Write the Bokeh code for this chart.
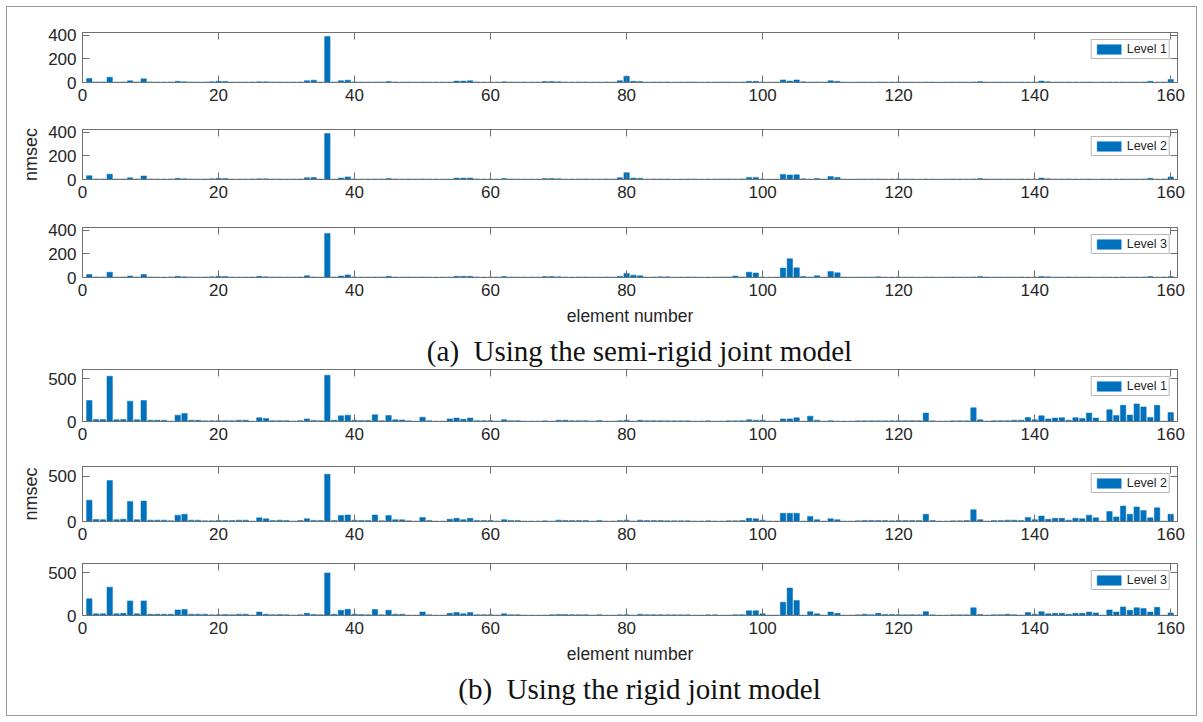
from bokeh.plotting import figure
from bokeh.models import Range1d, LinearAxis, FixedTicker, Legend, LegendItem, Div, ColumnDataSource
from bokeh.layouts import column
from bokeh.embed import file_html
from bokeh.resources import INLINE

elements = list(range(1, 161))
x_ticks = [0, 20, 40, 60, 80, 100, 120, 140, 160]
y_ticks_a = [0, 200, 400]
y_ticks_b = [0, 500]

semi_L1 = [34, 5, 5, 45, 4, 5, 14, 5, 31, 5, 4, 4, 5, 10, 6, 5, 4, 5, 6, 10,
           9, 4, 4, 4, 5, 6, 6, 5, 5, 4, 4, 5, 15, 20, 4, 390, 4, 15, 20, 5,
           4, 4, 5, 5, 8, 5, 4, 5, 4, 5, 4, 4, 4, 4, 12, 12, 15, 5, 4, 4,
           4, 6, 5, 4, 4, 4, 4, 8, 8, 6, 4, 4, 5, 5, 4, 4, 5, 4, 15, 53,
           10, 8, 4, 5, 5, 5, 3, 4, 5, 5, 3, 4, 4, 5, 5, 4, 5, 10, 10, 4,
           3, 4, 22, 12, 22, 6, 4, 5, 4, 15, 10, 4, 3, 4, 4, 4, 5, 4, 4, 5,
           4, 4, 3, 4, 4, 3, 4, 5, 4, 4, 5, 8, 5, 4, 4, 4, 4, 5, 4, 4,
           12, 6, 4, 4, 5, 4, 4, 5, 3, 4, 4, 4, 5, 4, 4, 5, 10, 4, 5, 25]

semi_L2 = [32, 5, 5, 45, 4, 5, 14, 5, 30, 5, 4, 4, 5, 10, 6, 5, 4, 5, 6, 10,
           9, 4, 4, 4, 5, 6, 6, 5, 5, 4, 4, 5, 15, 18, 4, 390, 4, 12, 22, 5,
           4, 4, 5, 5, 8, 5, 4, 5, 4, 5, 4, 4, 4, 4, 12, 12, 12, 5, 4, 4,
           4, 8, 5, 4, 4, 4, 4, 8, 8, 6, 4, 4, 5, 5, 4, 4, 5, 4, 15, 58,
           12, 10, 4, 5, 5, 5, 3, 4, 5, 5, 3, 4, 4, 5, 5, 4, 5, 18, 18, 4,
           3, 4, 42, 38, 40, 6, 4, 8, 4, 25, 18, 4, 3, 4, 4, 4, 5, 4, 4, 5,
           4, 4, 3, 4, 4, 3, 4, 5, 4, 4, 5, 8, 5, 4, 4, 4, 4, 5, 4, 4,
           12, 6, 4, 4, 5, 4, 4, 5, 3, 4, 4, 4, 5, 4, 4, 5, 10, 4, 5, 22]

semi_L3 = [25, 5, 5, 45, 4, 5, 12, 5, 25, 5, 4, 4, 5, 10, 6, 5, 4, 5, 6, 10,
           9, 4, 4, 4, 5, 10, 6, 5, 5, 4, 4, 5, 15, 5, 4, 375, 4, 12, 22, 5,
           4, 4, 5, 5, 10, 5, 4, 5, 4, 5, 4, 4, 4, 4, 10, 10, 10, 5, 4, 4,
           4, 8, 5, 4, 4, 4, 4, 8, 8, 6, 4, 4, 5, 5, 4, 4, 5, 4, 10, 35,
           20, 14, 4, 5, 6, 6, 3, 4, 5, 5, 3, 4, 4, 5, 5, 12, 5, 45, 38, 4,
           3, 4, 80, 160, 82, 8, 4, 15, 4, 50, 40, 4, 3, 4, 4, 4, 6, 4, 4, 5,
           4, 4, 3, 4, 4, 3, 4, 5, 4, 4, 5, 8, 5, 4, 4, 4, 4, 5, 4, 4,
           8, 6, 4, 4, 5, 4, 4, 5, 3, 4, 4, 4, 5, 4, 4, 5, 8, 4, 5, 8]

rigid_L1 = [244, 22, 22, 527, 20, 22, 236, 20, 244, 15, 15, 15, 5, 74, 93, 15, 14, 8, 8, 10,
            10, 10, 15, 15, 5, 43, 35, 10, 10, 10, 5, 10, 30, 12, 10, 539, 15, 66, 74, 15,
            12, 12, 78, 10, 70, 20, 18, 8, 5, 50, 10, 5, 5, 30, 40, 25, 40, 10, 10, 10,
            5, 20, 10, 10, 5, 5, 5, 8, 5, 15, 15, 10, 10, 10, 5, 12, 5, 5, 10, 15,
            5, 15, 10, 10, 10, 8, 8, 8, 8, 5, 5, 8, 5, 5, 8, 8, 10, 20, 15, 15,
            5, 5, 30, 30, 43, 5, 62, 15, 5, 10, 5, 5, 5, 8, 8, 8, 8, 8, 8, 10,
            10, 10, 10, 98, 8, 5, 5, 8, 8, 8, 160, 20, 5, 10, 10, 10, 15, 15, 47, 20,
            66, 30, 40, 45, 15, 45, 35, 98, 40, 5, 137, 70, 188, 75, 205, 170, 47, 188, 5, 105]

rigid_L2 = [235, 22, 20, 450, 20, 25, 220, 20, 225, 15, 15, 15, 8, 70, 80, 15, 15, 8, 8, 10,
            10, 10, 15, 15, 5, 40, 30, 10, 15, 12, 5, 10, 30, 12, 10, 520, 12, 65, 72, 15,
            12, 12, 72, 8, 65, 20, 18, 8, 5, 45, 10, 5, 5, 25, 35, 20, 35, 10, 10, 10,
            5, 20, 12, 10, 5, 5, 5, 8, 5, 15, 12, 10, 10, 10, 5, 12, 5, 5, 10, 15,
            5, 15, 10, 10, 10, 8, 8, 8, 8, 5, 5, 8, 5, 5, 8, 8, 10, 35, 30, 15,
            5, 5, 90, 90, 90, 5, 55, 20, 5, 30, 20, 5, 5, 8, 12, 10, 10, 10, 8, 10,
            10, 10, 10, 80, 10, 5, 5, 8, 8, 10, 130, 20, 5, 10, 10, 15, 15, 10, 45, 20,
            60, 25, 35, 35, 15, 35, 30, 70, 40, 5, 110, 50, 170, 80, 160, 120, 40, 150, 5, 80]

rigid_L3 = [195, 20, 20, 330, 20, 25, 170, 20, 170, 15, 15, 15, 15, 65, 70, 15, 15, 15, 8, 10,
            12, 10, 15, 15, 5, 40, 15, 10, 12, 10, 5, 10, 25, 12, 10, 495, 15, 60, 72, 15,
            12, 10, 70, 8, 60, 15, 15, 5, 5, 40, 8, 5, 5, 25, 35, 20, 35, 10, 10, 10,
            5, 20, 10, 10, 5, 5, 5, 5, 10, 12, 12, 10, 10, 10, 5, 10, 5, 5, 8, 10,
            5, 15, 10, 10, 10, 8, 8, 8, 8, 5, 5, 8, 8, 5, 5, 10, 10, 55, 55, 20,
            5, 5, 155, 320, 175, 5, 45, 20, 5, 40, 25, 5, 5, 8, 15, 10, 25, 12, 12, 10,
            8, 10, 8, 45, 8, 5, 5, 8, 8, 8, 90, 12, 5, 10, 10, 15, 10, 5, 35, 15,
            45, 20, 25, 25, 15, 25, 25, 40, 30, 5, 65, 40, 100, 60, 90, 80, 40, 95, 5, 30]

BLUE = "#0072BD"
AXC = "#707070"
TXT = "#262626"
FONT = "Liberation Sans"
W = 1203
LEFT = 82
RIGHT = 26


def style_axis(ax, ticks):
    ax.ticker = FixedTicker(ticks=ticks)
    ax.axis_line_color = AXC
    ax.major_tick_line_color = AXC
    ax.major_tick_in = 7
    ax.major_tick_out = 0
    ax.minor_tick_in = 0
    ax.minor_tick_out = 0
    ax.major_label_text_font = FONT
    ax.major_label_text_font_size = "17px"
    ax.major_label_text_color = TXT
    ax.major_label_standoff = 6


def panel(values, label, ymax, yticks, top, frame_h, bottom, ylabel=None, xlabel=None):
    p = figure(width=W, height=top + frame_h + bottom,
               x_range=Range1d(0, 161), y_range=Range1d(0, ymax),
               output_backend="svg", toolbar_location=None,
               min_border_left=LEFT, min_border_right=RIGHT,
               min_border_top=top, min_border_bottom=bottom)
    p.xgrid.visible = False
    p.ygrid.visible = False
    p.outline_line_color = AXC
    p.outline_line_width = 1
    p.background_fill_color = "white"
    p.border_fill_color = None
    src = ColumnDataSource(dict(x=elements, top=values))
    r = p.vbar(x="x", top="top", bottom=0, width=0.8, source=src,
               fill_color=BLUE, line_color=BLUE, line_width=0.5)

    xb = p.xaxis[0]
    yl = p.yaxis[0]
    style_axis(xb, x_ticks)
    style_axis(yl, yticks)

    top_ax = LinearAxis(ticker=FixedTicker(ticks=x_ticks), axis_line_color=AXC,
                        major_tick_line_color=AXC, major_tick_in=7, major_tick_out=0,
                        minor_tick_in=0, minor_tick_out=0,
                        major_label_overrides={t: "" for t in x_ticks},
                        major_label_text_font_size="10px", major_label_standoff=0)
    right_ax = LinearAxis(ticker=FixedTicker(ticks=yticks), axis_line_color=AXC,
                          major_tick_line_color=AXC, major_tick_in=7, major_tick_out=0,
                          minor_tick_in=0, minor_tick_out=0,
                          major_label_overrides={t: "" for t in yticks},
                          major_label_text_font_size="10px", major_label_standoff=0)
    p.add_layout(top_ax, "above")
    p.add_layout(right_ax, "right")

    if ylabel:
        yl.axis_label = ylabel
        yl.axis_label_text_font = FONT
        yl.axis_label_text_font_size = "18px"
        yl.axis_label_text_font_style = "normal"
        yl.axis_label_text_color = TXT
        yl.axis_label_standoff = 4
    if xlabel:
        xb.axis_label = xlabel
        xb.axis_label_text_font = FONT
        xb.axis_label_text_font_size = "17.5px"
        xb.axis_label_text_font_style = "normal"
        xb.axis_label_text_color = TXT
        xb.axis_label_standoff = 7

    legend = Legend(items=[LegendItem(label=label, renderers=[r])],
                    location="top_right", margin=7, padding=2, spacing=0,
                    glyph_width=30, glyph_height=12, label_height=13,
                    label_standoff=3, label_text_font=FONT,
                    label_text_font_size="12.5px", label_text_color=TXT,
                    border_line_color=AXC, border_line_width=1,
                    background_fill_color="white", background_fill_alpha=1)
    p.add_layout(legend)
    return p


def title_div(text, height, pad_top):
    html = ('<div style="margin:0 0 0 76px;width:1127px;text-align:center;'
            'font-family:\'Liberation Serif\';font-size:29px;line-height:29px;'
            'color:#111;padding-top:%dpx;white-space:nowrap">%s</div>' % (pad_top, text))
    return Div(text=html, width=W, height=height, margin=(0, 0, 0, 0))


p1 = panel(semi_L1, "Level 1", 425, y_ticks_a, 32, 50, 30)
p2 = panel(semi_L2, "Level 2", 425, y_ticks_a, 17, 50, 30, ylabel="nmsec")
p3 = panel(semi_L3, "Level 3", 425, y_ticks_a, 18, 50, 53, xlabel="element number")
ta = title_div("(a)&nbsp;&nbsp;Using the semi-rigid joint model", 35, 7)
p4 = panel(rigid_L1, "Level 1", 605, y_ticks_b, 4, 52, 30)
p5 = panel(rigid_L2, "Level 2", 605, y_ticks_b, 15, 55, 27, ylabel="nmsec")
p6 = panel(rigid_L3, "Level 3", 605, y_ticks_b, 15, 52, 55, xlabel="element number")
tb = title_div("(b)&nbsp;&nbsp;Using the rigid joint model", 52, 5)

layout = column(p1, p2, p3, ta, p4, p5, p6, tb, spacing=0,
                styles={"outline": "1px solid #9a9a9a", "outline-offset": "-7px",
                        "background-color": "white"})

open("out.html", "w").write(file_html(layout, INLINE))
